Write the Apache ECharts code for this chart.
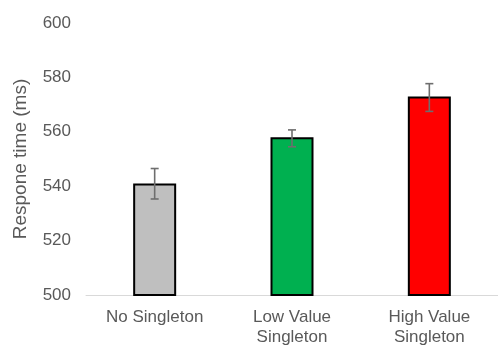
<!DOCTYPE html>
<html><head><meta charset="utf-8">
<script src="https://cdn.jsdelivr.net/npm/echarts@6/dist/echarts.min.js"></script>
<style>html,body{margin:0;padding:0;background:#fff}#c{width:498px;height:347px}</style>
</head><body><div id="c"></div>
<script>
var categories = ['No Singleton', 'Low Value\nSingleton', 'High Value\nSingleton'];
var values = [541, 558, 573];
var errLow = [535.3, 554.5, 567.5];
var errHigh = [546.5, 560.7, 577.7];
var barColors = ['#BFBFBF', '#00B050', '#FF0000'];
var yTicks = {min: 500, max: 600, interval: 20};

var chart = echarts.init(document.getElementById('c'), null, {renderer: 'canvas'});
var font = 'Liberation Sans, Arial, sans-serif';
chart.setOption({
  animation: false,
  grid: {left: 86, width: 418, top: 23, bottom: 49.3, containLabel: false},
  xAxis: {
    type: 'category', data: categories,
    axisLine: {lineStyle: {color: '#D9D9D9', width: 1}},
    axisTick: {show: false},
    axisLabel: {color: '#595959', fontSize: 17, fontFamily: font, margin: 12, lineHeight: 20, interval: 0}
  },
  yAxis: {
    type: 'value', min: yTicks.min, max: yTicks.max, interval: yTicks.interval,
    name: 'Respone time (ms)', nameLocation: 'middle', nameGap: 56,
    nameTextStyle: {color: '#595959', fontSize: 19, fontFamily: font},
    axisLine: {show: false}, axisTick: {show: false}, splitLine: {show: false},
    axisLabel: {color: '#595959', fontSize: 17, fontFamily: font, margin: 15}
  },
  series: [{
    type: 'bar', barWidth: 43,
    data: values.map(function (v, i) {
      return {value: v, itemStyle: {color: barColors[i]}};
    }),
    itemStyle: {borderColor: '#000', borderWidth: 2}
  }, {
    type: 'custom',
    data: errLow.map(function (l, i) { return [i, l, errHigh[i]]; }),
    renderItem: function (params, api) {
      var x = api.value(0);
      var lo = api.coord([x, api.value(1)]);
      var hi = api.coord([x, api.value(2)]);
      var hw = 4;
      var st = {stroke: '#6E6E6E', lineWidth: 1.6};
      return {type: 'group', children: [
        {type: 'line', shape: {x1: lo[0], y1: lo[1], x2: hi[0], y2: hi[1]}, style: st},
        {type: 'line', shape: {x1: lo[0] - hw, y1: lo[1], x2: lo[0] + hw, y2: lo[1]}, style: st},
        {type: 'line', shape: {x1: hi[0] - hw, y1: hi[1], x2: hi[0] + hw, y2: hi[1]}, style: st}
      ]};
    },
    z: 10
  }]
});
</script></body></html>
